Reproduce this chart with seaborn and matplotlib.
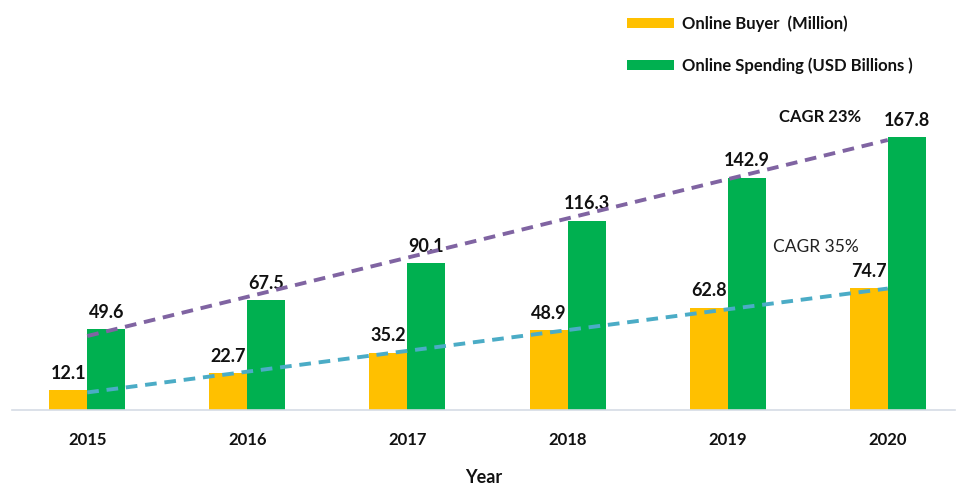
import numpy as np
import pandas as pd
import matplotlib
matplotlib.use("Agg")
import matplotlib.pyplot as plt
import seaborn as sns

years = ["2015", "2016", "2017", "2018", "2019", "2020"]
buyers = [12.1, 22.7, 35.2, 48.9, 62.8, 74.7]
spending = [49.6, 67.5, 90.1, 116.3, 142.9, 167.8]
series_names = ["Online Buyer  (Million)", "Online Spending (USD Billions )"]
cagr_labels = ["CAGR 35%", "CAGR 23%"]

sns.set_theme(style="white")
plt.rcParams["font.family"] = ["Lato", "DejaVu Sans"]
plt.rcParams["text.color"] = "#111111"
plt.rcParams["axes.labelcolor"] = "#111111"
plt.rcParams["xtick.color"] = "#111111"

df = pd.DataFrame({
    "Year": years * 2,
    "Value": buyers + spending,
    "Series": [series_names[0]] * 6 + [series_names[1]] * 6,
})

fig = plt.figure(figsize=(9.59, 4.88), dpi=100)
ax = fig.add_axes([12 / 959, 78 / 488, 943 / 959, 410 / 488])

colors = ["#FFC000", "#00B050"]
sns.barplot(data=df, x="Year", y="Value", hue="Series", palette=colors,
            width=0.475, saturation=1, ax=ax, legend=True, edgecolor="none")

ax.set_xlim(-0.47, 5.42)
ax.set_ylim(0, 252)

# value labels
for cont in ax.containers:
    ax.bar_label(cont, labels=[f"{v:.1f}" for v in cont.datavalues],
                 padding=6, fontsize=13, fontweight="bold", color="#111111")

# linear trend lines
x = np.arange(len(years))
for vals, col in [(buyers, "#4BACC6"), (spending, "#8064A2")]:
    k, b = np.polyfit(x, vals, 1)
    ax.plot(x, k * x + b, ls=(0, (3, 2)), color=col, lw=2.8, zorder=5)

ax.text(4.55, 100, cagr_labels[0], fontsize=12.5, color="#222222",
        ha="center", va="center")
ax.text(4.58, 180, cagr_labels[1], fontsize=12, fontweight="bold",
        color="#111111", ha="center", va="center")

for s in ["top", "left", "right"]:
    ax.spines[s].set_visible(False)
ax.spines["bottom"].set_color("#D6DCE5")
ax.spines["bottom"].set_linewidth(1.2)
ax.set_yticks([])
ax.set_ylabel("")
ax.tick_params(axis="x", length=0, pad=16, colors="#111111")
for t in ax.get_xticklabels():
    t.set_fontsize(12)
    t.set_fontweight("bold")
ax.set_xlabel("Year", fontsize=13, fontweight="bold", labelpad=15,
              color="#111111")

leg = ax.get_legend()
handles = leg.legend_handles
leg.remove()
fig.legend(handles, series_names, loc="upper left",
           bbox_to_anchor=(612 / 959, 1.0), frameon=False,
           prop={"size": 12, "weight": "bold"},
           handlelength=2.8, handleheight=0.55, handletextpad=0.5,
           labelspacing=1.55, labelcolor="#111111")

fig.savefig("out.png", dpi=100)
